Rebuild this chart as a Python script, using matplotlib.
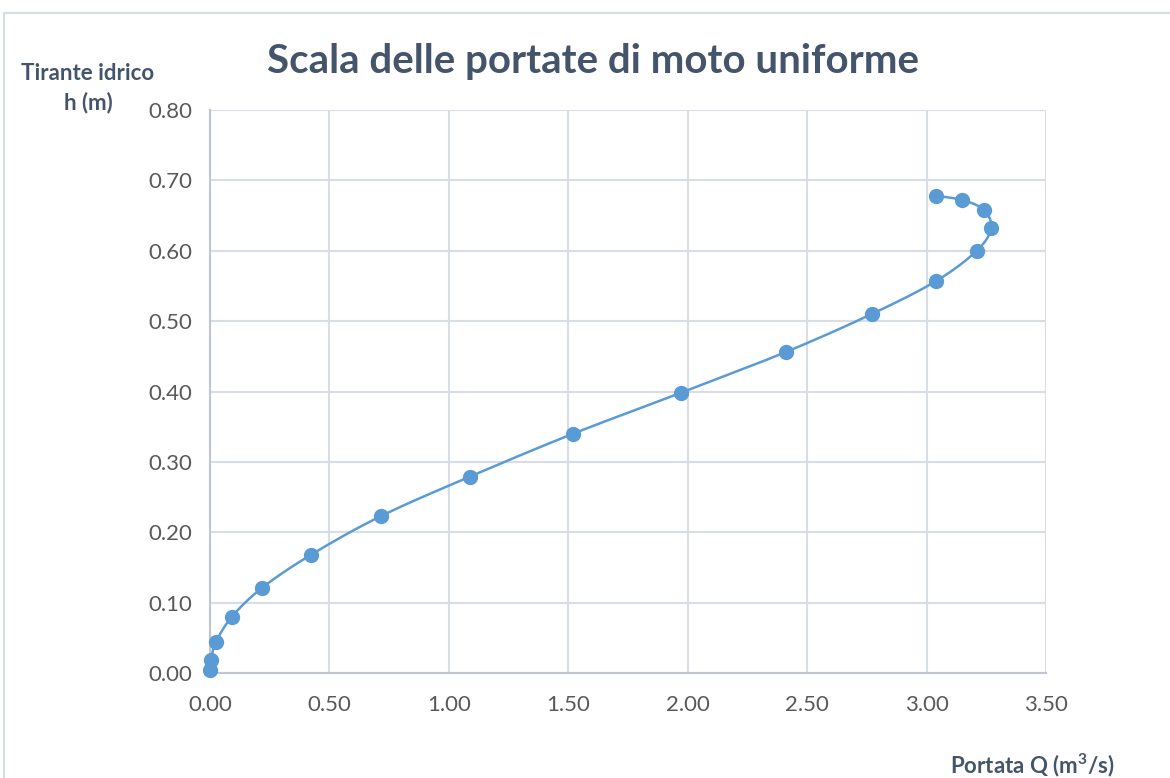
import numpy as np
import matplotlib
matplotlib.use("Agg")
from matplotlib import pyplot as plt
from matplotlib.patches import Rectangle

# data (Q in m3/s, h in m)
portata = [0.00, 0.004, 0.025, 0.092, 0.218, 0.423, 0.716, 1.088, 1.52, 1.97,
           2.41, 2.77, 3.04, 3.21, 3.27, 3.24, 3.15, 3.04]
tirante = [0.004, 0.018, 0.044, 0.080, 0.121, 0.168, 0.223, 0.279, 0.340, 0.398,
           0.456, 0.510, 0.557, 0.600, 0.632, 0.658, 0.672, 0.678]
xticks = [0, 0.5, 1.0, 1.5, 2.0, 2.5, 3.0, 3.5]
yticks = [0, 0.1, 0.2, 0.3, 0.4, 0.5, 0.6, 0.7, 0.8]

blue = "#5B9BD5"
txt = "#44546A"
gridc = "#D9DEE6"


def smooth(x, y, n=20):
    # catmull-rom, like excel's smoothed line
    p = np.column_stack([x, y])
    p = np.vstack([p[0], p, p[-1]])
    out = []
    for i in range(1, len(p) - 2):
        p0, p1, p2, p3 = p[i - 1], p[i], p[i + 1], p[i + 2]
        t = np.linspace(0, 1, n)[:, None]
        c = 0.5 * ((2 * p1) + (-p0 + p2) * t + (2 * p0 - 5 * p1 + 4 * p2 - p3) * t**2
                   + (-p0 + 3 * p1 - 3 * p2 + p3) * t**3)
        out.append(c)
    c = np.vstack(out)
    return c[:, 0], c[:, 1]


plt.rcParams['font.family'] = ['Lato', 'DejaVu Sans']
plt.rcParams['mathtext.fontset'] = 'custom'
plt.rcParams['mathtext.rm'] = 'Lato:bold'
fig = plt.figure(figsize=(11.7, 7.78), dpi=100)
fig.patches.append(Rectangle((4 / 1170, -0.1), 1.2, 1 - 13 / 778 + 0.1, transform=fig.transFigure,
                             fill=False, edgecolor="#D6DCE5", lw=1.5))
ax = fig.add_axes([210 / 1170, 1 - 673 / 778, 836 / 1170, 563 / 778])

sx, sy = smooth(portata, tirante)
ax.plot(sx, sy, color=blue, lw=1.8, zorder=3, clip_on=False)
ax.plot(portata, tirante, 'o', color=blue, ms=10, zorder=4, clip_on=False)

ax.set_xlim(0, 3.5)
ax.set_ylim(0, 0.8)
ax.set_xticks(xticks)
ax.set_yticks(yticks)
ax.set_xticklabels(["%.2f" % v for v in xticks])
ax.set_yticklabels(["%.2f" % v for v in yticks])
ax.tick_params(length=0, labelsize=16, labelcolor="#595959")
ax.tick_params(axis="y", pad=13)
ax.tick_params(axis="x", pad=16)
ax.grid(True, color=gridc, lw=1.5)
ax.set_axisbelow(True)
for s in ["top", "right"]:
    ax.spines[s].set_visible(False)
for s in ["left", "bottom"]:
    ax.spines[s].set_color("#BFC6D1")
    ax.spines[s].set_linewidth(1.5)

fig.text(593 / 1170, 1 - 62 / 778, "Scala delle portate di moto uniforme", ha="center", va="center",
         fontsize=29, fontweight="bold", color=txt)
fig.text(88 / 1170, 1 - 88 / 778, "Tirante idrico\nh (m)", ha="center", va="center",
         fontsize=16, fontweight="bold", color=txt, linespacing=1.45)
fig.text(1032 / 1170, 1 - 765 / 778, "Portata Q (m$^3$/s)", ha="center", va="center",
         fontsize=16, fontweight="bold", color=txt)

fig.savefig("out.png", dpi=100)
